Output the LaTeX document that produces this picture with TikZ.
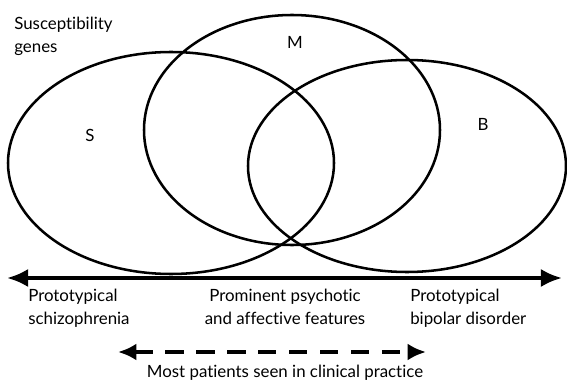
\documentclass[tikz,border=0pt]{standalone}
\usepackage{fontspec}
\setmainfont{Lato}[Ligatures=NoCommon]
\usetikzlibrary{arrows.meta}

\begin{document}
\begin{tikzpicture}[x=0.025cm,y=-0.025cm,
  txt/.style={font=\fontsize{12}{16.3}\selectfont, inner sep=0pt},
  ring/.style={line width=1.8pt},
  spectrum/.style={line width=2.8pt,{Latex[length=15pt,width=13pt]}-{Latex[length=15pt,width=13pt]}},
  practice/.style={spectrum,dash pattern=on 13pt off 9pt,{Latex[length=13pt,width=12pt]}-{Latex[length=13pt,width=12pt]}}]
\useasboundingbox (0,0) rectangle (567,381);

% the three groups of genes
\draw[ring] (171,163) ellipse [x radius=163, y radius=111];
\draw[ring] (292,130) ellipse [x radius=148, y radius=115];
\draw[ring] (407,166) ellipse [x radius=159, y radius=106];
\node[txt] (s) at (90,135) {S};
\node[txt] (m) at (295,42) {M};
\node[txt] (b) at (483,124) {B};
\node[txt,anchor=north west,align=left] (genes) at (14,17) {Susceptibility\\genes};

% diagnostic spectrum
\coordinate (left) at (7,278);
\coordinate (right) at (562,278);
\draw[spectrum] (left) -- (right);
\node[txt,anchor=north west,align=left] (scz) at (28,289) {Prototypical\\schizophrenia};
\node[txt,anchor=north,align=center] (mid) at (285,289) {Prominent psychotic\\and affective features};
\node[txt,anchor=north west,align=left] (bip) at (410,289) {Prototypical\\bipolar disorder};

% most patients
\coordinate (pleft) at (118,352);
\coordinate (pright) at (426,352);
\draw[practice] (pleft) -- (pright);
\node[txt] (most) at (285,373) {Most patients seen in clinical practice};
\end{tikzpicture}
\end{document}
